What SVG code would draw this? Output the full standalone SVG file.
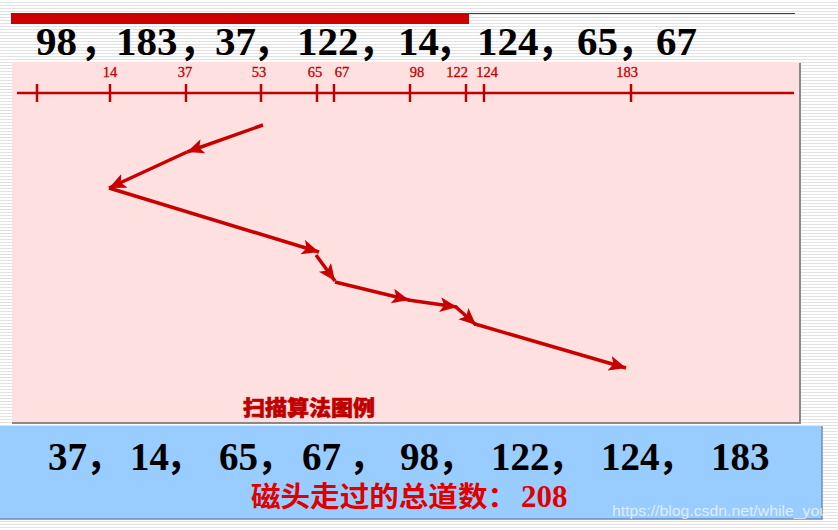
<svg xmlns="http://www.w3.org/2000/svg" width="838" height="530" viewBox="0 0 838 530">
  <defs>
    <pattern id="stripes" x="0" y="0" width="8" height="3" patternUnits="userSpaceOnUse">
      <rect width="8" height="3" fill="#FFFFFF"/>
      <rect y="2" width="8" height="1" fill="#E2E2E2"/>
    </pattern>
    <marker id="ah" markerUnits="userSpaceOnUse" markerWidth="20" markerHeight="16" refX="17" refY="7.5" orient="auto">
      <path d="M0,0 L17,7.5 L0,15 L4,7.5 Z" fill="#C80000"/>
    </marker>
  </defs>
  <style>
    .big { font-family: "Liberation Serif", "Noto Sans CJK SC", serif; font-weight: bold; fill: #000; }
    .cm { font-family: "Noto Sans CJK SC", sans-serif; font-weight: bold; fill: #000; }
    .tick { stroke: #C00000; stroke-width: 2.5; }
    .lbl { font-family: "Liberation Serif", serif; font-size: 14.5px; fill: #C00000; text-anchor: middle; stroke: #C00000; stroke-width: 0.3; }
    .seg { stroke: #C80000; stroke-width: 3.5; fill: none; marker-end: url(#ah); }
  </style>

  <rect width="838" height="530" fill="url(#stripes)"/>

  <g id="title-bar">
    <line x1="469" y1="13.5" x2="795" y2="13.5" stroke="#CC0000" stroke-width="1"/>
    <rect x="11" y="13" width="458" height="11" fill="#CC0000"/>
  </g>

  <g id="request-sequence">
    <text class="big" font-size="41" y="55"><tspan x="36">98</tspan><tspan x="116">183</tspan><tspan x="215">37</tspan><tspan x="297">122</tspan><tspan x="398">14</tspan><tspan x="477">124</tspan><tspan x="577">65</tspan><tspan x="656">67</tspan></text>
    <text class="cm" font-size="38" y="55"><tspan x="80">，</tspan><tspan x="179">，</tspan><tspan x="253">，</tspan><tspan x="358">，</tspan><tspan x="435">，</tspan><tspan x="537">，</tspan><tspan x="617">，</tspan></text>
  </g>

  <g id="panel">
    <rect x="12" y="62" width="788" height="361" fill="#FFE0E0"/>
    <line x1="800" y1="63" x2="800" y2="424" stroke="#888888" stroke-width="2"/>
    <line x1="12" y1="423" x2="801" y2="423" stroke="#888888" stroke-width="2"/>
  </g>

  <g id="axis">
    <line x1="17" y1="93" x2="794" y2="93" stroke="#C00000" stroke-width="2.5"/>
    <line class="tick" x1="37" y1="84" x2="37" y2="102"/>
    <line class="tick" x1="110" y1="84" x2="110" y2="102"/>
    <line class="tick" x1="186" y1="84" x2="186" y2="102"/>
    <line class="tick" x1="261" y1="84" x2="261" y2="102"/>
    <line class="tick" x1="317" y1="84" x2="317" y2="102"/>
    <line class="tick" x1="334" y1="84" x2="334" y2="102"/>
    <line class="tick" x1="410" y1="84" x2="410" y2="102"/>
    <line class="tick" x1="466" y1="84" x2="466" y2="102"/>
    <line class="tick" x1="484" y1="84" x2="484" y2="102"/>
    <line class="tick" x1="631" y1="84" x2="631" y2="102"/>
    <text class="lbl" x="110" y="77">14</text>
    <text class="lbl" x="185" y="77">37</text>
    <text class="lbl" x="259" y="77">53</text>
    <text class="lbl" x="315" y="77">65</text>
    <text class="lbl" x="342" y="77">67</text>
    <text class="lbl" x="417" y="77">98</text>
    <text class="lbl" x="457" y="77">122</text>
    <text class="lbl" x="487" y="77">124</text>
    <text class="lbl" x="627" y="77">183</text>
  </g>

  <g id="connectors">
    <line class="seg" x1="263" y1="125" x2="187" y2="152"/>
    <line class="seg" x1="187" y1="152" x2="109" y2="188"/>
    <line class="seg" x1="109" y1="188" x2="319" y2="252"/>
    <line class="seg" x1="316" y1="255" x2="335" y2="281"/>
    <line class="seg" x1="335" y1="282" x2="409" y2="300"/>
    <line class="seg" x1="408" y1="300" x2="457" y2="307"/>
    <line class="seg" x1="456" y1="307" x2="476" y2="325"/>
    <line class="seg" x1="475" y1="324" x2="626" y2="368"/>
  </g>

  <g id="caption">
    <text x="243" y="415" font-family="Noto Sans CJK SC, sans-serif" font-weight="900" font-size="21" fill="#C00000" stroke="#C00000" stroke-width="0.6" textLength="132" lengthAdjust="spacingAndGlyphs">扫描算法图例</text>
  </g>

  <g id="result">
    <rect x="0" y="426" width="822" height="93" fill="#99CCFF"/>
    <line x1="822" y1="426" x2="822" y2="519.5" stroke="#6E8FB5" stroke-width="1.5"/>
    <line x1="0" y1="519" x2="822.5" y2="519" stroke="#6E8FB5" stroke-width="1.5"/>
    <text class="big" font-size="39" y="470"><tspan x="48">37</tspan><tspan x="130">14</tspan><tspan x="219">65</tspan><tspan x="302">67</tspan><tspan x="400">98</tspan><tspan x="491">122</tspan><tspan x="601">124</tspan><tspan x="711">183</tspan></text>
    <text class="cm" font-size="36" y="470"><tspan x="86">，</tspan><tspan x="166">，</tspan><tspan x="257">，</tspan><tspan x="349">，</tspan><tspan x="438">，</tspan><tspan x="548">，</tspan><tspan x="658">，</tspan></text>
    <text x="251" y="507" font-family="Noto Sans CJK SC, sans-serif" font-weight="bold" font-size="28" fill="#E00000" textLength="266" lengthAdjust="spacingAndGlyphs">磁头走过的总道数：</text>
    <text x="521" y="507" font-family="Liberation Serif, serif" font-weight="bold" font-size="31" fill="#E00000">208</text>
  </g>

  <text x="612" y="516" font-family="Liberation Sans, Arial, sans-serif" font-size="15.5" fill="#F2F6FA" fill-opacity="0.8" textLength="216" lengthAdjust="spacingAndGlyphs">https://blog.csdn.net/while_you</text>
</svg>
